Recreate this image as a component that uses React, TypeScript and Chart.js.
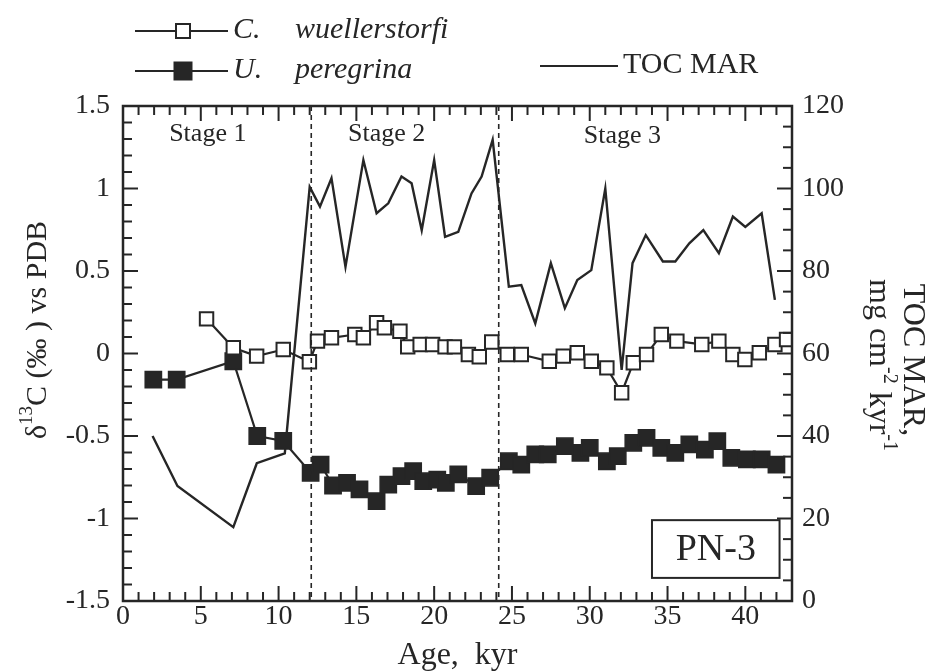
import React, { useEffect, useRef } from 'react';
import { Chart, registerables } from 'chart.js';

Chart.register(...registerables);

// ---- axes ----
const xTicks = [0, 5, 10, 15, 20, 25, 30, 35, 40];
const xTickLabels = ['0', '5', '10', '15', '20', '25', '30', '35', '40'];
const yTicks = [-1.5, -1, -0.5, 0, 0.5, 1, 1.5];
const yTickLabels = ['-1.5', '-1', '-0.5', '0', '0.5', '1', '1.5'];
const y2Ticks = [0, 20, 40, 60, 80, 100, 120];
const y2TickLabels = ['0', '20', '40', '60', '80', '100', '120'];

// ---- C. wuellerstorfi (open squares), left axis ----
const cwX = [5.37, 7.09, 8.59, 10.3, 11.98, 12.5, 13.4, 14.9, 15.45, 16.3, 16.8, 17.8, 18.3, 19.1, 19.9, 20.7, 21.3, 22.2, 22.9, 23.7, 24.7, 25.6, 27.4, 28.3, 29.2, 30.1, 31.1, 32.05, 32.8, 33.65, 34.6, 35.6, 37.2, 38.3, 39.2, 39.97, 40.9, 41.9, 42.65];
const cwY = [0.21, 0.035, -0.016, 0.024, -0.05, 0.075, 0.095, 0.115, 0.095, 0.186, 0.156, 0.135, 0.04, 0.055, 0.055, 0.04, 0.04, -0.006, -0.02, 0.07, -0.006, -0.006, -0.047, -0.016, 0.004, -0.047, -0.087, -0.238, -0.056, -0.006, 0.115, 0.075, 0.055, 0.075, -0.006, -0.036, 0.004, 0.055, 0.085];

// ---- U. peregrina (filled squares), left axis ----
const upX = [1.95, 3.45, 7.09, 8.63, 10.3, 12.06, 12.7, 13.5, 14.4, 15.2, 16.3, 17.05, 17.9, 18.65, 19.3, 20.2, 20.75, 21.55, 22.7, 23.6, 24.8, 25.6, 26.5, 27.3, 28.4, 29.4, 30.0, 31.1, 31.8, 32.8, 33.65, 34.6, 35.5, 36.4, 37.4, 38.2, 39.1, 40.1, 41.05, 42.0];
const upY = [-0.158, -0.158, -0.047, -0.5, -0.53, -0.723, -0.673, -0.8, -0.784, -0.824, -0.895, -0.794, -0.743, -0.713, -0.774, -0.764, -0.784, -0.733, -0.804, -0.753, -0.653, -0.673, -0.612, -0.612, -0.562, -0.602, -0.572, -0.653, -0.622, -0.541, -0.511, -0.572, -0.602, -0.551, -0.582, -0.531, -0.632, -0.642, -0.642, -0.673];

// ---- TOC MAR (line), right axis ----
const tocX = [1.9, 3.5, 7.09, 8.6, 10.4, 12.0, 12.66, 13.4, 14.3, 15.45, 16.3, 17.05, 17.9, 18.55, 19.2, 20.0, 20.7, 21.55, 22.4, 23.05, 23.76, 24.8, 25.6, 26.5, 27.5, 28.4, 29.2, 30.1, 31.0, 32.05, 32.75, 33.6, 34.7, 35.5, 36.4, 37.3, 38.3, 39.2, 40.0, 41.05, 41.9];
const tocY = [40.0, 27.9, 17.9, 33.4, 35.8, 100.4, 95.6, 102.5, 81.0, 106.9, 94.0, 96.4, 102.9, 101.3, 89.9, 106.9, 88.3, 89.5, 98.8, 102.9, 111.8, 76.2, 76.6, 67.3, 81.9, 71.0, 77.8, 80.2, 100.0, 56.0, 81.9, 88.7, 82.3, 82.3, 86.7, 89.9, 84.3, 93.2, 90.7, 94.0, 73.0];

// ---- stages ----
const stageBounds = [12.1, 24.15];
const stageNames = ['Stage 1', 'Stage 2', 'Stage 3'];
const stageNameX = [5.45, 16.95, 32.1];
const stageNameY = [1.33, 1.33, 1.32];
const coreName = 'PN-3';

const INK = '#262626';
const FONT = "'Liberation Serif', 'Times New Roman', serif";

const decor = {
  id: 'decor',
  beforeDraw(chart: any) {
    const { ctx, width, height } = chart;
    ctx.save();
    ctx.fillStyle = '#ffffff';
    ctx.fillRect(0, 0, width, height);
    ctx.restore();
  },
  afterDatasetsDraw(chart: any) {
    const { ctx, chartArea: a, scales } = chart;
    const sx = scales.x, sy = scales.y, sy2 = scales.y2;
    ctx.save();
    ctx.strokeStyle = INK;
    ctx.fillStyle = INK;

    // stage boundaries
    ctx.setLineDash([5, 4]);
    ctx.lineWidth = 1.6;
    stageBounds.forEach((b) => {
      const px = sx.getPixelForValue(b);
      ctx.beginPath();
      ctx.moveTo(px, a.top);
      ctx.lineTo(px, a.bottom);
      ctx.stroke();
    });
    ctx.setLineDash([]);

    // stage names
    ctx.font = `26px ${FONT}`;
    ctx.textAlign = 'center';
    ctx.textBaseline = 'middle';
    stageNames.forEach((n, i) => {
      ctx.fillText(n, sx.getPixelForValue(stageNameX[i]), sy.getPixelForValue(stageNameY[i]));
    });

    // core name box
    const bx0 = sx.getPixelForValue(34.0);
    const bx1 = sx.getPixelForValue(42.2);
    const by0 = sy2.getPixelForValue(19.6);
    const by1 = sy2.getPixelForValue(5.6);
    ctx.fillStyle = '#ffffff';
    ctx.fillRect(bx0, by0, bx1 - bx0, by1 - by0);
    ctx.lineWidth = 2;
    ctx.strokeRect(bx0, by0, bx1 - bx0, by1 - by0);
    ctx.fillStyle = INK;
    ctx.font = `38px ${FONT}`;
    ctx.fillText(coreName, (bx0 + bx1) / 2, (by0 + by1) / 2 + 1);

    // frame
    ctx.lineWidth = 2.5;
    ctx.strokeRect(a.left, a.top, a.right - a.left, a.bottom - a.top);

    // inward ticks
    ctx.lineWidth = 2;
    const major = 15, minor = 9;
    for (let v = 0; v <= 43; v++) {
      const px = sx.getPixelForValue(v);
      const len = v % 5 === 0 ? major : minor;
      ctx.beginPath();
      ctx.moveTo(px, a.bottom);
      ctx.lineTo(px, a.bottom - len);
      ctx.moveTo(px, a.top);
      ctx.lineTo(px, a.top + len);
      ctx.stroke();
    }
    for (let i = -15; i <= 15; i++) {
      const py = sy.getPixelForValue(i / 10);
      const len = i % 5 === 0 ? major : minor;
      ctx.beginPath();
      ctx.moveTo(a.left, py);
      ctx.lineTo(a.left + len, py);
      ctx.stroke();
    }
    for (let v = 0; v <= 120; v += 5) {
      const py = sy2.getPixelForValue(v);
      const len = v % 20 === 0 ? major : minor;
      ctx.beginPath();
      ctx.moveTo(a.right, py);
      ctx.lineTo(a.right - len, py);
      ctx.stroke();
    }
    ctx.restore();
  },
  afterDraw(chart: any) {
    const { ctx } = chart;
    ctx.save();
    ctx.strokeStyle = INK;
    ctx.fillStyle = INK;
    ctx.textBaseline = 'middle';
    ctx.textAlign = 'left';

    // legend
    const legendRow = (y: number, filled: boolean, a: string, b: string) => {
      ctx.lineWidth = 2.2;
      ctx.beginPath();
      ctx.moveTo(135, y);
      ctx.lineTo(228, y);
      ctx.stroke();
      const s = filled ? 17 : 14;
      ctx.fillStyle = filled ? INK : '#ffffff';
      ctx.fillRect(183 - s / 2, y - s / 2, s, s);
      ctx.lineWidth = 2;
      ctx.strokeRect(183 - s / 2, y - s / 2, s, s);
      ctx.fillStyle = INK;
      ctx.font = `italic 30px ${FONT}`;
      ctx.fillText(a, 233, y - 1);
      ctx.fillText(b, 295, y - 1);
    };
    legendRow(31, false, 'C.', 'wuellerstorfi');
    legendRow(71, true, 'U.', 'peregrina');
    ctx.lineWidth = 2.2;
    ctx.beginPath();
    ctx.moveTo(540, 66);
    ctx.lineTo(618, 66);
    ctx.stroke();
    ctx.font = `30px ${FONT}`;
    ctx.fillText('TOC MAR', 623, 65);

    // rich text helper (pieces with optional superscript)
    const drawPieces = (pieces: { t: string; sup?: boolean }[], size: number) => {
      const supSize = Math.round(size * 0.62);
      const widths = pieces.map((p) => {
        ctx.font = `${p.sup ? supSize : size}px ${FONT}`;
        return ctx.measureText(p.t).width;
      });
      const total = widths.reduce((s, w) => s + w, 0);
      let cx = -total / 2;
      pieces.forEach((p, i) => {
        ctx.font = `${p.sup ? supSize : size}px ${FONT}`;
        ctx.fillText(p.t, cx, p.sup ? -size * 0.36 : 0);
        cx += widths[i];
      });
    };

    // left axis title
    ctx.save();
    ctx.translate(38, 330);
    ctx.rotate(-Math.PI / 2);
    drawPieces([{ t: 'δ' }, { t: '13', sup: true }, { t: 'C (‰ ) vs PDB' }], 30);
    ctx.restore();

    // right axis title
    ctx.save();
    ctx.translate(912, 360);
    ctx.rotate(Math.PI / 2);
    drawPieces([{ t: 'TOC MAR,' }], 32);
    ctx.restore();
    ctx.save();
    ctx.translate(878, 365);
    ctx.rotate(Math.PI / 2);
    drawPieces([{ t: 'mg cm' }, { t: '-2', sup: true }, { t: ' kyr' }, { t: '-1', sup: true }], 32);
    ctx.restore();

    ctx.restore();
  },
};

export default function App() {
  const ref = useRef<HTMLCanvasElement>(null);
  useEffect(() => {
    const canvas = ref.current;
    if (!canvas) return;
    const tickFont = { family: FONT, size: 28, lineHeight: 1 };
    const chart = new Chart(canvas, {
      type: 'line',
      data: {
        datasets: [
          {
            label: 'C. wuellerstorfi',
            data: cwX.map((x, i) => ({ x, y: cwY[i] })),
            yAxisID: 'y',
            borderColor: INK,
            borderWidth: 2.2,
            pointStyle: 'rect',
            pointRadius: 9.5,
            pointBackgroundColor: '#ffffff',
            pointBorderColor: INK,
            pointBorderWidth: 2,
            tension: 0,
            fill: false,
          },
          {
            label: 'U. peregrina',
            data: upX.map((x, i) => ({ x, y: upY[i] })),
            yAxisID: 'y',
            borderColor: INK,
            borderWidth: 2.2,
            pointStyle: 'rect',
            pointRadius: 11.5,
            pointBackgroundColor: INK,
            pointBorderColor: INK,
            pointBorderWidth: 1.5,
            tension: 0,
            fill: false,
          },
          {
            label: 'TOC MAR',
            data: tocX.map((x, i) => ({ x, y: tocY[i] })),
            yAxisID: 'y2',
            borderColor: INK,
            borderWidth: 2.4,
            pointRadius: 0,
            tension: 0,
            fill: false,
          },
        ],
      },
      options: {
        responsive: false,
        devicePixelRatio: 1,
        animation: false,
        events: [],
        layout: { padding: { top: 106, left: 0, right: 0, bottom: 0 } },
        plugins: { legend: { display: false }, tooltip: { enabled: false } },
        scales: {
          x: {
            type: 'linear',
            position: 'bottom',
            min: 0,
            max: 43,
            grid: { display: false, drawTicks: false },
            border: { display: false },
            afterBuildTicks: (s: any) => {
              s.ticks = xTicks.map((v) => ({ value: v }));
            },
            afterFit: (s: any) => {
              s.height = 71;
            },
            ticks: {
              autoSkip: false,
              maxRotation: 0,
              padding: 2,
              color: INK,
              font: tickFont,
              callback: (_v: any, i: number) => xTickLabels[i],
            },
            title: {
              display: true,
              text: 'Age,  kyr',
              color: INK,
              font: { family: FONT, size: 32, lineHeight: 1 },
              padding: { top: 0, bottom: 0 },
            },
          },
          y: {
            type: 'linear',
            position: 'left',
            min: -1.5,
            max: 1.5,
            grid: { display: false, drawTicks: false },
            border: { display: false },
            afterBuildTicks: (s: any) => {
              s.ticks = yTicks.map((v) => ({ value: v }));
            },
            afterFit: (s: any) => {
              s.width = 123;
            },
            ticks: {
              autoSkip: false,
              padding: 13,
              color: INK,
              font: tickFont,
              callback: (_v: any, i: number) => yTickLabels[i],
            },
          },
          y2: {
            type: 'linear',
            position: 'right',
            min: 0,
            max: 120,
            grid: { display: false, drawTicks: false },
            border: { display: false },
            afterBuildTicks: (s: any) => {
              s.ticks = y2Ticks.map((v) => ({ value: v }));
            },
            afterFit: (s: any) => {
              s.width = 144;
            },
            ticks: {
              autoSkip: false,
              padding: 10,
              color: INK,
              font: tickFont,
              callback: (_v: any, i: number) => y2TickLabels[i],
            },
          },
        },
      } as any,
      plugins: [decor],
    });
    return () => chart.destroy();
  }, []);
  return (
    <div style={{ position: 'fixed', left: 0, top: 0, width: 936, height: 672, background: '#ffffff' }}>
      <canvas ref={ref} width={936} height={672} style={{ display: 'block', width: 936, height: 672 }} />
    </div>
  );
}
